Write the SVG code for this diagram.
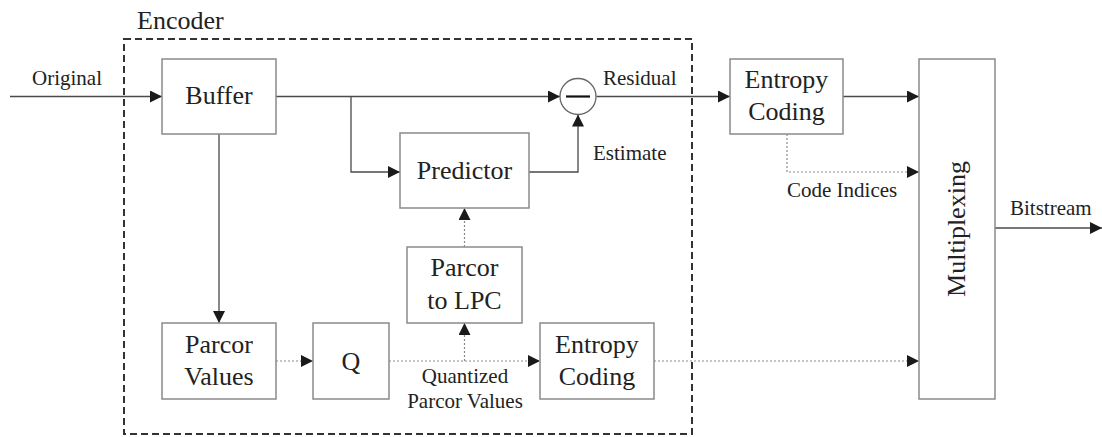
<svg xmlns="http://www.w3.org/2000/svg" width="1102" height="437" viewBox="0 0 1102 437">
<style>
.box{fill:#fff;stroke:#8a8a8a;stroke-width:1.5}
.ln{fill:none;stroke:#4a4a4a;stroke-width:1.3}
.dot{fill:none;stroke:#8a8a8a;stroke-width:1.2;stroke-dasharray:2 2}
text{font-family:'Liberation Serif','Times New Roman',Tinos,'DejaVu Serif',serif;fill:#222}
.t{font-size:26px;text-anchor:middle}
.s{font-size:21px}
</style>
<defs>
<marker id="ah" markerUnits="userSpaceOnUse" markerWidth="12" markerHeight="12" refX="12" refY="6" orient="auto">
<path d="M0,0 L12,6 L0,12 z" fill="#1a1a1a"/>
</marker>
</defs>
<rect x="0" y="0" width="1102" height="437" fill="#fff"/>
<g id="encoder">
<rect x="124" y="39" width="568" height="395" fill="none" stroke="#333" stroke-width="2" stroke-dasharray="7 4"/>
<text x="137" y="29" font-size="26">Encoder</text>
</g>
<g id="connectors">
<line class="ln" x1="10" y1="96.5" x2="162" y2="96.5" marker-end="url(#ah)"/>
<line class="ln" x1="276" y1="96.5" x2="560" y2="96.5" marker-end="url(#ah)"/>
<polyline class="ln" points="351,96.5 351,172 400,172" marker-end="url(#ah)"/>
<polyline class="ln" points="529,172 578,172 578,114.5" marker-end="url(#ah)"/>
<line class="ln" x1="596.5" y1="96.5" x2="730" y2="96.5" marker-end="url(#ah)"/>
<line class="ln" x1="843" y1="96.5" x2="919" y2="96.5" marker-end="url(#ah)"/>
<polyline class="dot" points="787,134 787,172 919,172" marker-end="url(#ah)"/>
<line class="ln" x1="219" y1="134" x2="219" y2="323" marker-end="url(#ah)"/>
<line class="dot" x1="276" y1="361" x2="313" y2="361" marker-end="url(#ah)"/>
<line class="dot" x1="389" y1="361" x2="540" y2="361" marker-end="url(#ah)"/>
<line class="dot" x1="464.5" y1="361" x2="464.5" y2="323" marker-end="url(#ah)"/>
<line class="dot" x1="464.5" y1="247" x2="464.5" y2="208" marker-end="url(#ah)"/>
<line class="dot" x1="654" y1="361" x2="919" y2="361" marker-end="url(#ah)"/>
<line class="ln" x1="995" y1="228" x2="1102" y2="228" marker-end="url(#ah)"/>
<text class="s" x="32" y="85">Original</text>
<text class="s" x="603" y="85">Residual</text>
<text class="s" x="593" y="160">Estimate</text>
<text class="s" x="787" y="197">Code Indices</text>
<text class="s" x="1010" y="215">Bitstream</text>
<text class="s" x="465" y="383" text-anchor="middle">Quantized</text>
<text class="s" x="465" y="408" text-anchor="middle">Parcor Values</text>
</g>
<g id="buffer">
<rect class="box" x="162" y="59" width="114" height="75"/>
<text class="t" x="219" y="104">Buffer</text>
</g>
<g id="subtract">
<circle cx="578" cy="96.5" r="18" fill="#fff" stroke="#666" stroke-width="1.3"/>
<line x1="566" y1="96.5" x2="590" y2="96.5" stroke="#111" stroke-width="2.2"/>
</g>
<g id="predictor">
<rect class="box" x="400" y="133" width="129" height="75"/>
<text class="t" x="464.5" y="179">Predictor</text>
</g>
<g id="parcor-to-lpc">
<rect class="box" x="407" y="247" width="115" height="76"/>
<text class="t" x="464.5" y="276">Parcor</text>
<text class="t" x="464.5" y="309">to LPC</text>
</g>
<g id="parcor-values">
<rect class="box" x="162" y="323" width="114" height="76"/>
<text class="t" x="219" y="353">Parcor</text>
<text class="t" x="219" y="385">Values</text>
</g>
<g id="q">
<rect class="box" x="313" y="323" width="76" height="76"/>
<text class="t" x="351" y="370">Q</text>
</g>
<g id="entropy-coding-bottom">
<rect class="box" x="540" y="323" width="114" height="76"/>
<text class="t" x="597" y="353">Entropy</text>
<text class="t" x="597" y="385">Coding</text>
</g>
<g id="entropy-coding-top">
<rect class="box" x="730" y="59" width="113" height="75"/>
<text class="t" x="786.5" y="88">Entropy</text>
<text class="t" x="786.5" y="120">Coding</text>
</g>
<g id="multiplexing">
<rect class="box" x="919" y="59" width="76" height="340"/>
<text class="t" transform="translate(965,229) rotate(-90)">Multiplexing</text>
</g>
</svg>
